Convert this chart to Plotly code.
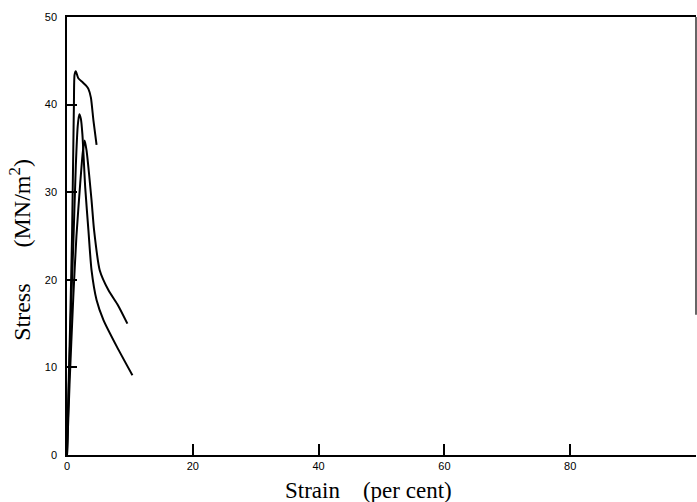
import plotly.graph_objects as go

# Curve A (highest peak, ~44)
strain_a = [0, 0.15, 0.5, 0.8, 1.0, 1.1, 1.2, 1.4, 1.8, 2.4, 3.0, 3.4, 3.8, 4.2, 4.7]
stress_a = [0, 5, 15, 25, 35, 40, 43.4, 43.8, 43.0, 42.6, 42.2, 41.8, 40.8, 38.2, 35.4]

# Curve B (peak ~39, tail to ~9)
strain_b = [0, 0.3, 0.7, 1.0, 1.4, 1.7, 1.95, 2.2, 2.45, 2.9, 3.4, 3.9, 4.7, 5.8, 7.9, 10.4]
stress_b = [0, 8, 18, 24, 33, 37.5, 38.9, 38.4, 36.6, 30.5, 25.7, 21.1, 17.7, 15.4, 12.4, 9.1]

# Curve C (peak ~36, tail to ~15)
strain_c = [0, 0.4, 1.0, 1.5, 2.1, 2.5, 2.8, 3.1, 3.9, 4.3, 5.2, 6.6, 8.1, 9.6]
stress_c = [0, 8, 18, 25, 31, 34.5, 35.9, 34.8, 29.1, 25.7, 21.1, 18.8, 17.1, 15.0]

x_ticks = [0, 20, 40, 60, 80]
y_ticks = [0, 10, 20, 30, 40, 50]

fig = go.Figure()
for xs, ys in [(strain_a, stress_a), (strain_b, stress_b), (strain_c, stress_c)]:
    fig.add_trace(go.Scatter(x=xs, y=ys, mode="lines",
                             line=dict(color="black", width=2, shape="spline", smoothing=0.6),
                             showlegend=False, hoverinfo="skip"))

tick_font = dict(family="Liberation Sans, Arial, sans-serif", size=11, color="black")
fig.update_xaxes(range=[0, 100], tickvals=x_ticks, ticktext=[str(v) for v in x_ticks],
                 ticks="inside", ticklen=11, tickwidth=1.5, tickcolor="black",
                 showline=True, linecolor="black", linewidth=1.5, mirror=True,
                 showgrid=False, zeroline=False, tickfont=tick_font)
fig.update_yaxes(range=[0, 50], tickvals=y_ticks, ticktext=[str(v) for v in y_ticks],
                 ticks="inside", ticklen=10, tickwidth=1.5, tickcolor="black",
                 showline=True, linecolor="black", linewidth=1.5, mirror=False,
                 showgrid=False, zeroline=False, tickfont=tick_font,
                 ticklabelstandoff=6)

# partial right border as in the scan
fig.add_shape(type="line", xref="paper", yref="y", x0=1, x1=1, y0=16, y1=50,
              line=dict(color="black", width=1.2))

title_font = dict(family="Liberation Serif, Times New Roman, serif", size=23, color="black")
fig.add_annotation(text="Strain\u00a0\u00a0\u00a0\u00a0(per cent)", xref="paper", yref="paper",
                   x=0.48, y=-0.082, xanchor="center", yanchor="middle",
                   showarrow=False, font=title_font)
fig.add_annotation(text="Stress\u00a0\u00a0\u00a0\u00a0\u00a0\u00a0(MN/m<sup>2</sup>)", xref="paper", yref="paper",
                   x=-0.075, y=0.468, xanchor="center", yanchor="middle", textangle=-90,
                   showarrow=False, font=dict(family="Liberation Serif, Times New Roman, serif",
                                              size=24, color="black"))

fig.update_layout(width=697, height=502, margin=dict(l=67, r=1, t=17, b=47),
                  paper_bgcolor="white", plot_bgcolor="white")
fig.write_html("out.html")
